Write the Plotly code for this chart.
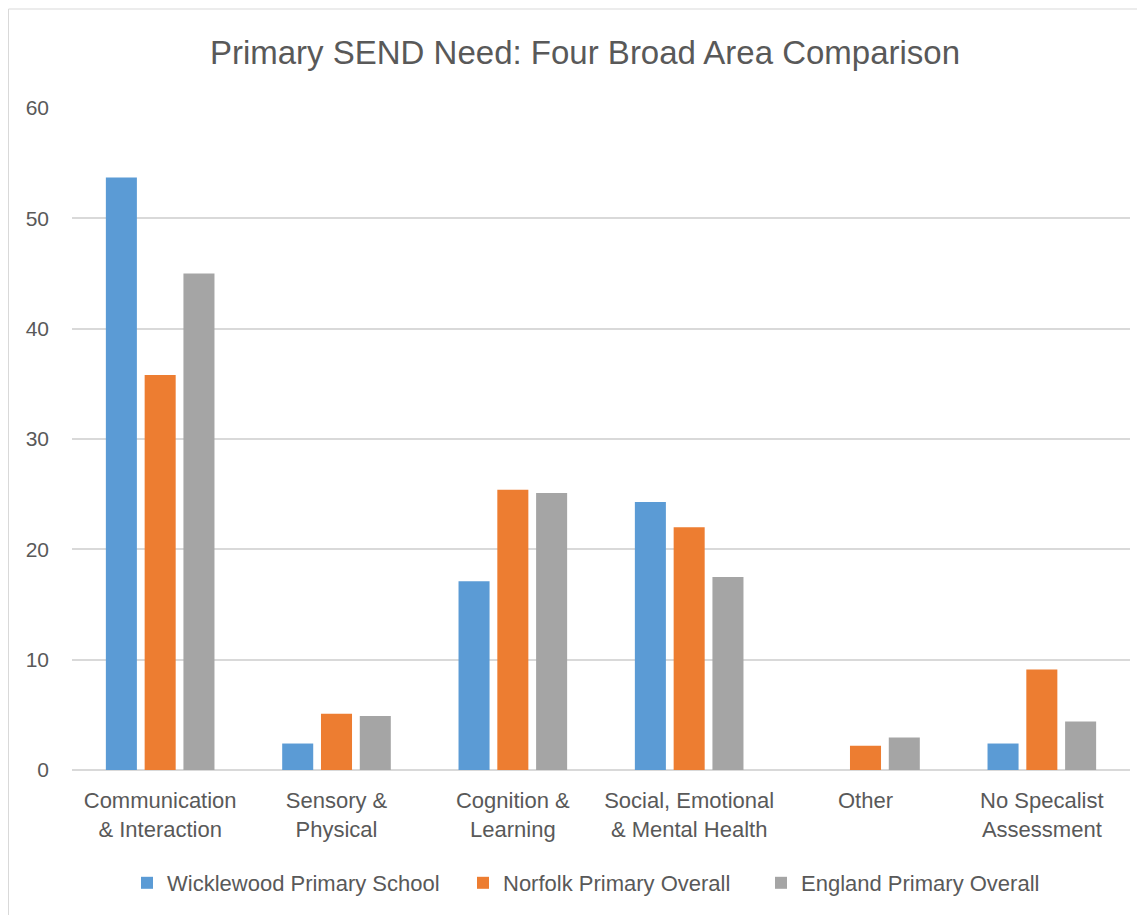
import plotly.graph_objects as go

categories = ["Communication<br>& Interaction", "Sensory &<br>Physical", "Cognition &<br>Learning",
              "Social, Emotional<br>& Mental Health", "Other", "No Specalist<br>Assessment"]
wicklewood = [53.7, 2.4, 17.1, 24.3, None, 2.4]
norfolk = [35.8, 5.1, 25.4, 22.0, 2.2, 9.1]
england = [45.0, 4.9, 25.1, 17.5, 2.95, 4.4]
series_names = ["Wicklewood Primary School", "Norfolk Primary Overall", "England Primary Overall"]
colors = ["#5B9BD5", "#ED7D31", "#A5A5A5"]
yticks = [0, 10, 20, 30, 40, 50, 60]

FONT = "Liberation Sans"
TXT = "#595959"

L, T, PW, PH = 64, 100, 1058, 662
legend_names = ["legend", "legend2", "legend3"]
legend_x = [(119 - L) / PW, (455 - L) / PW, (753 - L) / PW]
legend_y = (PH - (875 - T)) / PH

fig = go.Figure()
for name, vals, col, lg in zip(series_names, [wicklewood, norfolk, england], colors, legend_names):
    fig.add_trace(go.Bar(x=categories, y=vals, name=name, legend=lg, showlegend=True,
                         marker=dict(color=col, line=dict(width=0))))

legend_common = dict(orientation="h", xanchor="left", y=legend_y, yanchor="middle",
                     font=dict(size=22, color=TXT, family=FONT), itemwidth=30,
                     bgcolor="rgba(0,0,0,0)")

fig.update_layout(
    width=1145, height=915,
    showlegend=True,
    paper_bgcolor="white", plot_bgcolor="white",
    margin=dict(l=L, r=1145 - L - PW, t=T, b=915 - T - PH),
    barmode="group", bargap=0.34, bargroupgap=0.2,
    font=dict(family=FONT, color=TXT, size=21),
    title=dict(text="Primary SEND Need: Four Broad Area Comparison", x=(585 - 8 - L) / PW, xref="paper",
               xanchor="center", y=1 - 44 / 915, yanchor="middle",
               font=dict(family=FONT, size=33, color=TXT)),
    legend=dict(x=legend_x[0], **legend_common),
    legend2=dict(x=legend_x[1], **legend_common),
    legend3=dict(x=legend_x[2], **legend_common),
    xaxis=dict(showgrid=False, showline=False, ticks="", tickfont=dict(size=22, color=TXT),
               ticklabelstandoff=15),
    yaxis=dict(range=[0, 60], tickvals=yticks, showgrid=True, gridcolor="#D9D9D9", gridwidth=1.5,
               zeroline=True, zerolinecolor="#D9D9D9", zerolinewidth=1.5, showline=False,
               tickfont=dict(size=21, color=TXT), ticklabelstandoff=22),
    shapes=[dict(type="rect", xref="paper", yref="paper",
                 x0=(0.5 - L) / PW, x1=1.2, y0=-1, y1=(PH + T - 1) / PH,
                 line=dict(color="#D9D9D9", width=1), fillcolor="rgba(0,0,0,0)")],
)

fig.write_html("out.html")
